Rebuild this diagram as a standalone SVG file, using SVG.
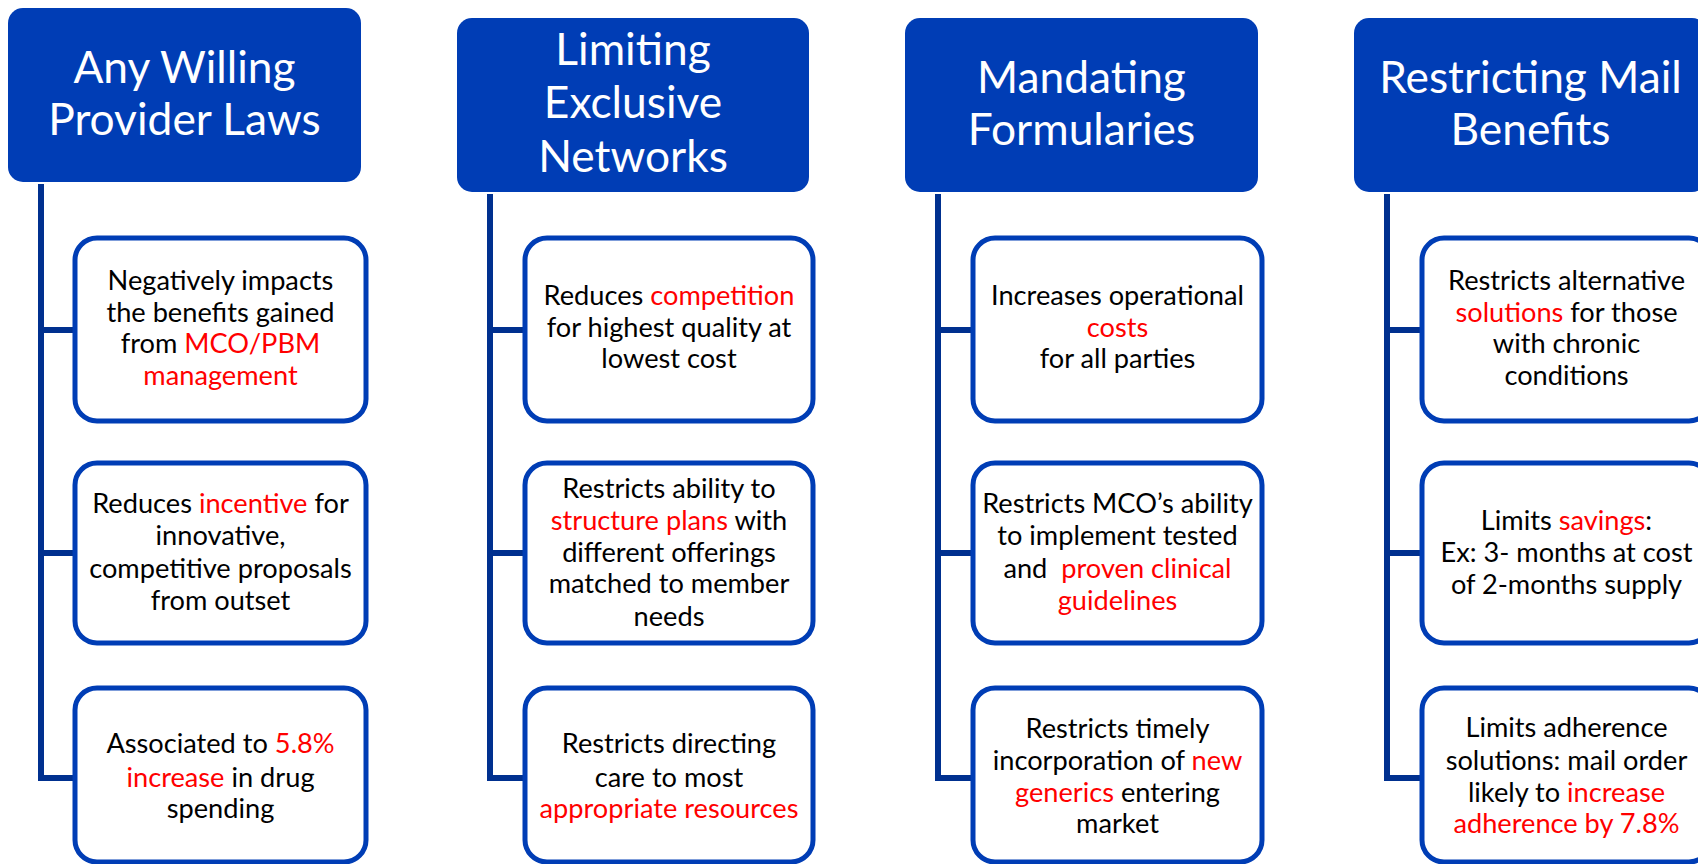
<svg xmlns="http://www.w3.org/2000/svg" width="1698" height="864" viewBox="0 0 1698 864">
<style>
.hdr{fill:#003DB5;}
.box{fill:#FFFFFF;stroke:#003DB5;stroke-width:5;}
.conn{fill:none;stroke:#00308F;stroke-width:6;}
.ht{font-family:Lato,"Liberation Sans",sans-serif;font-size:44.3px;fill:#FFFFFF;text-anchor:middle;}
.bt{font-family:Lato,"Liberation Sans",sans-serif;font-size:27.2px;fill:#000000;text-anchor:middle;}
.r{fill:#FF0000;}
</style>
<rect width="1698" height="864" fill="#FFFFFF"/>
<g id="connectors">
<path class="conn" d="M41 184 V778 H75 M41 330 H75 M41 553 H75"/>
<path class="conn" d="M490 194 V778 H525 M490 330 H525 M490 553 H525"/>
<path class="conn" d="M938 194 V778 H973 M938 330 H973 M938 553 H973"/>
<path class="conn" d="M1387 194 V778 H1422 M1387 330 H1422 M1387 553 H1422"/>
</g>
<g id="h1"><rect class="hdr" x="8" y="8" width="353" height="174" rx="15"/>
<text class="ht" x="184.5" y="83">Any Willing</text><text class="ht" x="184.5" y="135">Provider Laws</text></g>
<g id="h2"><rect class="hdr" x="457" y="18" width="352" height="174" rx="15"/>
<text class="ht" x="633" y="65">Limiting</text><text class="ht" x="633" y="118">Exclusive</text><text class="ht" x="633" y="172">Networks</text></g>
<g id="h3"><rect class="hdr" x="905" y="18" width="353" height="174" rx="15"/>
<text class="ht" x="1081.5" y="93">Mandating</text><text class="ht" x="1081.5" y="145">Formularies</text></g>
<g id="h4"><rect class="hdr" x="1354" y="18" width="353" height="174" rx="15"/>
<text class="ht" x="1530.5" y="93">Restricting Mail</text><text class="ht" x="1530.5" y="145">Benefits</text></g>

<g id="c1b1"><rect class="box" x="75" y="238" width="291" height="183" rx="22"/>
<text class="bt" x="220.5" y="290">Negatively impacts</text>
<text class="bt" x="220.5" y="322">the benefits gained</text>
<text class="bt" x="220.5" y="353">from <tspan class="r">MCO/PBM</tspan></text>
<text class="bt r" x="220.5" y="385">management</text></g>
<g id="c1b2"><rect class="box" x="75" y="463" width="291" height="180" rx="22"/>
<text class="bt" x="220.5" y="513">Reduces <tspan class="r">incentive</tspan> for</text>
<text class="bt" x="220.5" y="545">innovative,</text>
<text class="bt" x="220.5" y="578">competitive proposals</text>
<text class="bt" x="220.5" y="610">from outset</text></g>
<g id="c1b3"><rect class="box" x="75" y="688" width="291" height="174" rx="22"/>
<text class="bt" x="220.5" y="753">Associated to <tspan class="r">5.8%</tspan></text>
<text class="bt" x="220.5" y="787"><tspan class="r">increase</tspan> in drug</text>
<text class="bt" x="220.5" y="818">spending</text></g>

<g id="c2b1"><rect class="box" x="525" y="238" width="288" height="183" rx="22"/>
<text class="bt" x="669" y="305">Reduces <tspan class="r">competition</tspan></text>
<text class="bt" x="669" y="337">for highest quality at</text>
<text class="bt" x="669" y="368">lowest cost</text></g>
<g id="c2b2"><rect class="box" x="525" y="463" width="288" height="180" rx="22"/>
<text class="bt" x="669" y="498">Restricts ability to</text>
<text class="bt" x="669" y="530"><tspan class="r">structure plans</tspan> with</text>
<text class="bt" x="669" y="562">different offerings</text>
<text class="bt" x="669" y="593">matched to member</text>
<text class="bt" x="669" y="626">needs</text></g>
<g id="c2b3"><rect class="box" x="525" y="688" width="288" height="174" rx="22"/>
<text class="bt" x="669" y="753">Restricts directing</text>
<text class="bt" x="669" y="787">care to most</text>
<text class="bt r" x="669" y="818">appropriate resources</text></g>

<g id="c3b1"><rect class="box" x="973" y="238" width="289" height="183" rx="22"/>
<text class="bt" x="1117.5" y="305">Increases operational</text>
<text class="bt r" x="1117.5" y="337">costs</text>
<text class="bt" x="1117.5" y="368">for all parties</text></g>
<g id="c3b2"><rect class="box" x="973" y="463" width="289" height="180" rx="22"/>
<text class="bt" x="1117.5" y="513">Restricts MCO’s ability</text>
<text class="bt" x="1117.5" y="545">to implement tested</text>
<text class="bt" x="1117.5" y="578">and&#160; <tspan class="r">proven clinical</tspan></text>
<text class="bt r" x="1117.5" y="610">guidelines</text></g>
<g id="c3b3"><rect class="box" x="973" y="688" width="289" height="174" rx="22"/>
<text class="bt" x="1117.5" y="738">Restricts timely</text>
<text class="bt" x="1117.5" y="770">incorporation of <tspan class="r">new</tspan></text>
<text class="bt" x="1117.5" y="802"><tspan class="r">generics</tspan> entering</text>
<text class="bt" x="1117.5" y="833">market</text></g>

<g id="c4b1"><rect class="box" x="1422" y="238" width="289" height="183" rx="22"/>
<text class="bt" x="1566.5" y="290">Restricts alternative</text>
<text class="bt" x="1566.5" y="322"><tspan class="r">solutions</tspan> for those</text>
<text class="bt" x="1566.5" y="353">with chronic</text>
<text class="bt" x="1566.5" y="385">conditions</text></g>
<g id="c4b2"><rect class="box" x="1422" y="463" width="289" height="180" rx="22"/>
<text class="bt" x="1566.5" y="530">Limits <tspan class="r">savings</tspan>:</text>
<text class="bt" x="1566.5" y="562">Ex: 3- months at cost</text>
<text class="bt" x="1566.5" y="594">of 2-months supply</text></g>
<g id="c4b3"><rect class="box" x="1422" y="688" width="289" height="174" rx="22"/>
<text class="bt" x="1566.5" y="737">Limits adherence</text>
<text class="bt" x="1566.5" y="770">solutions: mail order</text>
<text class="bt" x="1566.5" y="802">likely to <tspan class="r">increase</tspan></text>
<text class="bt r" x="1566.5" y="833">adherence by 7.8%</text></g>
</svg>
